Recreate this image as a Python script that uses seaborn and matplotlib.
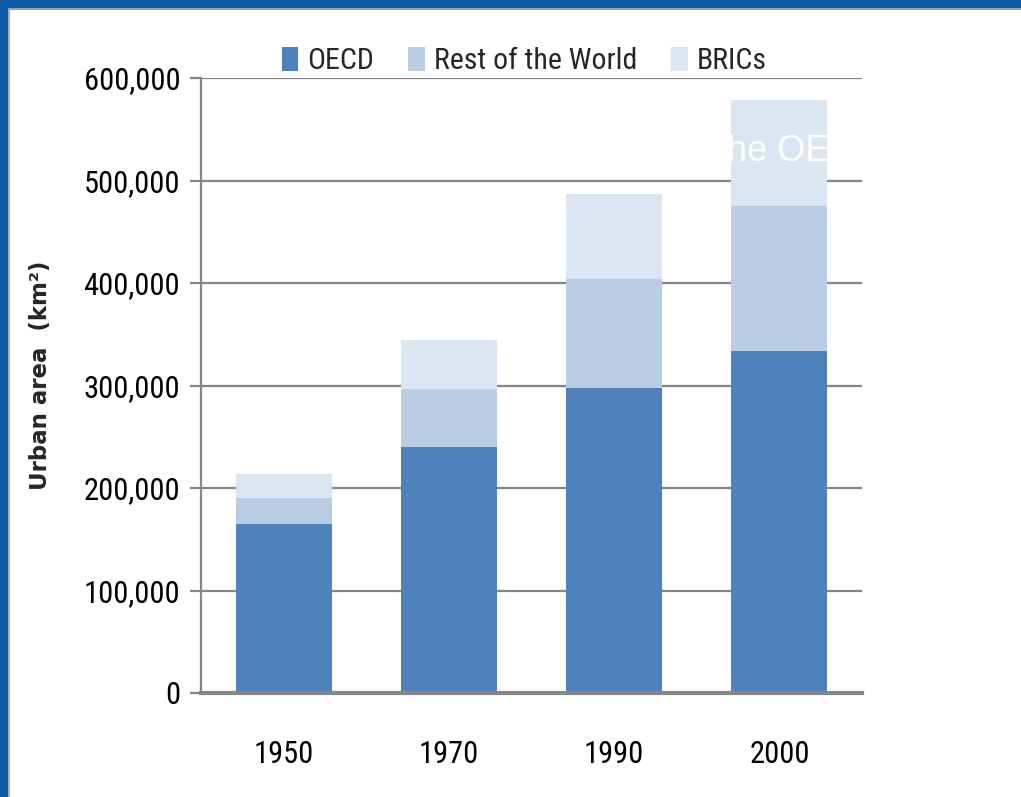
import pandas as pd
import matplotlib.pyplot as plt
import seaborn as sns
from matplotlib import font_manager
from matplotlib.patches import Patch, Rectangle
from matplotlib.ticker import FuncFormatter

sns.set_theme(style="white")
names = {f.name for f in font_manager.fontManager.ttflist}
narrow = [n for n in ["Liberation Sans Narrow", "Roboto Condensed", "DejaVu Sans Condensed"] if n in names]
plt.rcParams["font.family"] = narrow + ["Liberation Sans", "DejaVu Sans"]
plt.rcParams["font.stretch"] = "condensed"

# ----------------------------------------------------------------
# Data (urban area, km2)
# ----------------------------------------------------------------
years = ["1950", "1970", "1990", "2000"]
oecd = [165000, 240000, 298000, 334000]
rest_of_world = [25000, 57000, 106000, 141000]
brics = [24000, 47000, 83000, 104000]

series = ["OECD", "Rest of the World", "BRICs"]
colors = {"OECD": "#4F81BD", "Rest of the World": "#B9CDE5", "BRICs": "#DCE6F2"}

df = pd.DataFrame({"Year": years, "OECD": oecd,
                   "Rest of the World": rest_of_world, "BRICs": brics})
df["cum_oecd"] = df["OECD"]
df["cum_rest"] = df["cum_oecd"] + df["Rest of the World"]
df["cum_brics"] = df["cum_rest"] + df["BRICs"]

# ----------------------------------------------------------------
# Figure
# ----------------------------------------------------------------
fig = plt.figure(figsize=(10.21, 7.97), dpi=100)
ax = fig.add_axes([201 / 1021, 1 - 693 / 797, 661 / 1021, 615 / 797])

# stacked bars: draw the tallest stack first, then overlay
for col, name in [("cum_brics", "BRICs"), ("cum_rest", "Rest of the World"), ("cum_oecd", "OECD")]:
    sns.barplot(data=df, x="Year", y=col, color=colors[name], width=0.58,
                saturation=1, linewidth=0, ax=ax, zorder=3)

ax.set_xlim(-0.5, 3.5)
ax.set_ylim(0, 600000)
ax.set_yticks(range(0, 600001, 100000))
ax.yaxis.set_major_formatter(FuncFormatter(lambda v, p: f"{int(v):,}"))
ax.set_xlabel("")
ax.set_ylabel("")

grid_c = "#868686"
ax.grid(axis="y", color=grid_c, linewidth=1.6, zorder=1)
ax.set_axisbelow(True)
for s in ["top", "right"]:
    ax.spines[s].set_visible(False)
ax.spines["left"].set_color(grid_c)
ax.spines["left"].set_linewidth(1.6)
ax.spines["bottom"].set_color(grid_c)
ax.spines["bottom"].set_linewidth(3)
ax.spines["bottom"].set_zorder(4)

ax.tick_params(axis="y", which="major", left=True, length=8, width=1.6,
               color=grid_c, pad=7, labelsize=22, labelcolor="black")
ax.tick_params(axis="x", bottom=False, pad=28, labelsize=22, labelcolor="black")

fig.text(40 / 1021, 1 - 375 / 797, "Urban area  (km²)", rotation=90,
         ha="center", va="center", fontsize=16.5, fontweight="bold",
         family=["DejaVu Sans"], stretch="normal")

# stray white slide text showing through the tallest bar
ax.text(2.625, 528000, "the OECD", color="white", fontsize=26,
        family=["Liberation Sans", "DejaVu Sans"], stretch="normal",
        ha="left", va="center", zorder=5, clip_on=True)

handles = [Patch(facecolor=colors[s], edgecolor="none", label=s) for s in series]
fig.legend(handles=handles, loc="center", bbox_to_anchor=(524 / 1021, 1 - 61 / 797),
           ncol=3, frameon=False, fontsize=21.5, handlelength=0.55, handleheight=0.85,
           handletextpad=0.3, columnspacing=1.15)

# slide frame
blue = "#0A5CA8"
fig.patches.append(Rectangle((0, 1 - 8 / 797), 1, 8 / 797, transform=fig.transFigure,
                             facecolor=blue, edgecolor="none", zorder=10))
fig.patches.append(Rectangle((0, 0), 8 / 1021, 1, transform=fig.transFigure,
                             facecolor=blue, edgecolor="none", zorder=10))
fig.patches.append(Rectangle((8 / 1021, 0), 2 / 1021, 1 - 8 / 797, transform=fig.transFigure,
                             facecolor="#B0B0B0", edgecolor="none", zorder=10))
fig.patches.append(Rectangle((8 / 1021, 1 - 10 / 797), 1, 2 / 797, transform=fig.transFigure,
                             facecolor="#A0A0A0", edgecolor="none", zorder=10))

fig.savefig("out.png", dpi=100)
